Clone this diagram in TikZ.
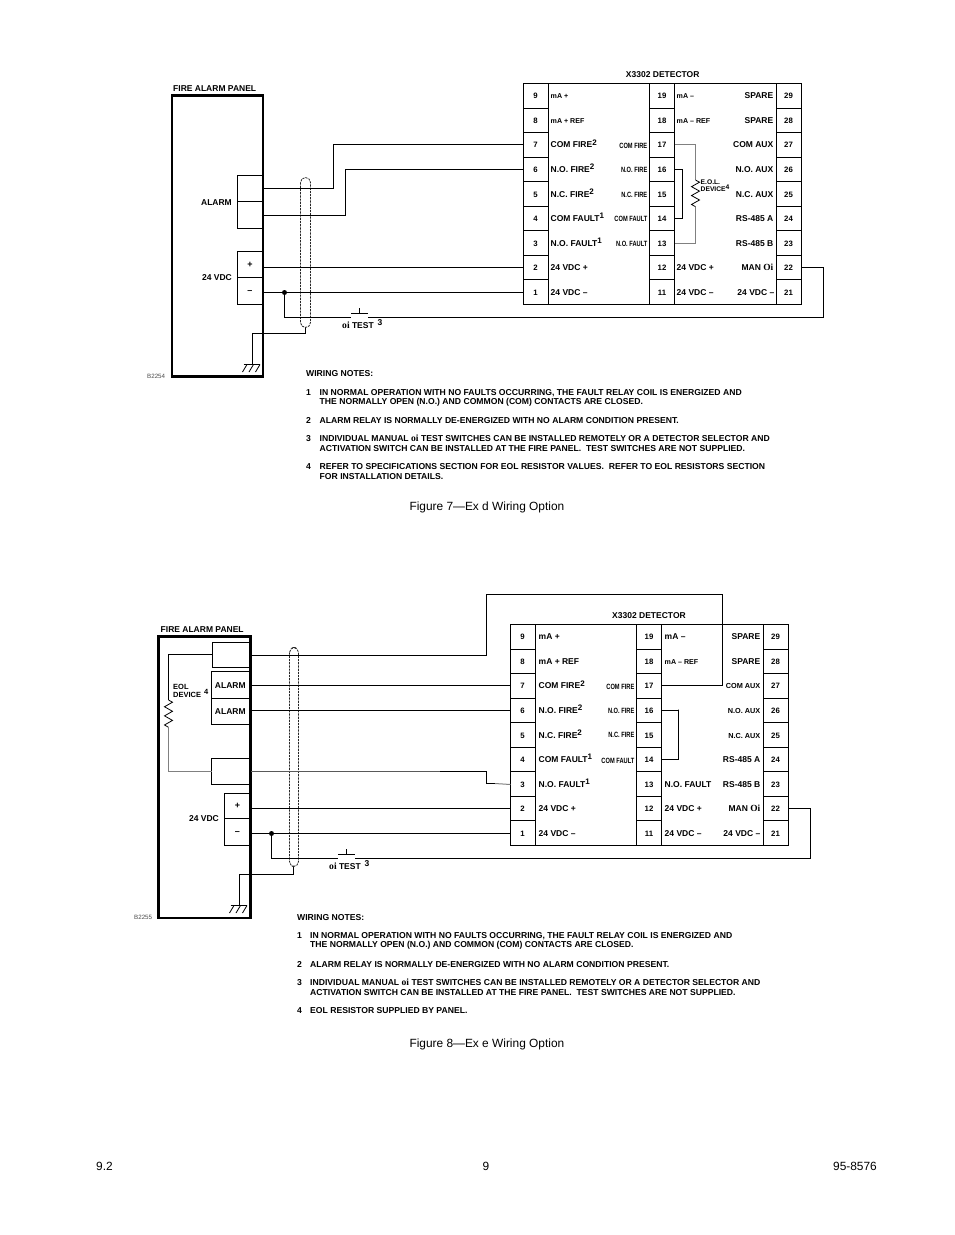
\documentclass[tikz,border=0pt]{standalone}
\usepackage{fontspec}
\setmainfont{Liberation Sans}
\newfontfamily\oifont{Liberation Serif}
\newcommand\fsz[1]{\fontsize{#1}{#1}\selectfont}
\newcommand\spr[1]{\raisebox{2.6pt}{\fsz{8}#1}}
\newcommand\oisym{{\oifont\bfseries\fsz{9.6}oi}}
\newcommand\bigoi{{\oifont\bfseries\fsz{9.4}Oi}}
\newcommand\cond[1]{\scalebox{.75}[1]{#1}}
\tikzset{
  x=1pt,y=-1pt,
  wire/.style={line width=1pt,black},
  greywire/.style={line width=1pt,black!50},
  panelbox/.style={line width=2.6pt,black},
  tbox/.style={line width=1pt,black},
  shieldline/.style={line width=.8pt,black!85,dash pattern=on 2.2pt off 1pt,rounded corners=5pt},
  txt/.style={inner sep=0pt,font=\bfseries\fsz{8.5},text height=6pt,text depth=0pt},
  small/.style={txt,font=\bfseries\fsz{7.1}},
  narrow/.style={txt,font=\bfseries\fsz{7.6},anchor=east},
  notes/.style={inner sep=0pt,font=\bfseries\fsz{8.62},anchor=base west},
  plain/.style={inner sep=0pt,font=\fsz{11.9},anchor=base west},
  code/.style={inner sep=0pt,font=\fsz{6.2},text=black!70,anchor=west},
}
% detector: prefix, dx, dy
\newcommand\detector[3]{%
\begin{scope}[shift={(#2,#3)}]
  \draw[tbox] (523.5,83.5) rectangle (801.5,304.5);
  \foreach \xx in {548.5,649.5,674.5,776.5} \draw[tbox] (\xx,83.5) -- (\xx,304.5);
  \foreach \k in {1,...,8} {
    \pgfmathsetmacro\yy{floor(83.5+24.55*\k)+.5}
    \draw[tbox] (523.5,\yy) -- (548.5,\yy);
    \draw[tbox] (649.5,\yy) -- (674.5,\yy);
    \draw[tbox] (776.5,\yy) -- (801.5,\yy);
  }
  \foreach \n [count=\k from 0] in {9,8,7,6,5,4,3,2,1} {
    \pgfmathsetmacro\yy{95.8+24.55*\k}
    \pgfmathsetmacro\yw{floor(95.8+24.55*\k)+.5}
    \pgfmathtruncatemacro\m{\n+10}
    \pgfmathtruncatemacro\r{\n+20}
    \node[txt,font=\bfseries\fsz{7.8}] (#1-n\n) at (535.5,\yy) {\n};
    \node[txt,font=\bfseries\fsz{7.8}] (#1-n\m) at (662,\yy) {\m};
    \node[txt,font=\bfseries\fsz{7.8}] (#1-n\r) at (788.5,\yy) {\r};
    \coordinate (#1-t\n) at (523.5,\yw);
    \coordinate (#1-t\m) at (674.5,\yw);
    \coordinate (#1-t\r) at (801.5,\yw);
  }
\end{scope}}
% switch + ground: prefix, dx, dy
\newcommand\common[3]{%
\begin{scope}[shift={(#2,#3)}]
  \coordinate (#1-gtop) at (252.5,333.5);
  \coordinate (#1-gnd) at (252.5,364.5);
  \coordinate (#1-swl) at (351,317.5);
  \coordinate (#1-swr) at (368,317.5);
  \coordinate (#1-jd) at (284.5,317.5);
  \coordinate (#1-far) at (823.5,317.5);
  \coordinate (#1-pr) at (264,300);
  \draw[wire] (243.5,364.5) -- (260,364.5);
  \draw[wire,line width=.8pt] (247,364.5) -- (242.5,372) (253.5,364.5) -- (249,372) (260,364.5) -- (255.5,372);
  \draw[wire] (351,313.5) -- (368,313.5) (359.5,313.5) -- (359.5,308);
  \node[txt,anchor=west] (#1-test) at (342,325.5) {\oisym\ TEST};
  \node[txt,anchor=west] (#1-testn) at (377.5,322.5) {3};
\end{scope}}
\begin{document}
\begin{tikzpicture}
\useasboundingbox (0,0) rectangle (954,1235);
\fill[white] (0,0) rectangle (954,1235);

%%%%%%%%%%%% FIGURE 7
\detector{A}{0}{0}
\common{A}{0}{0}
\draw[shieldline] (300.5,177.5) rectangle (310.5,327.5);
\coordinate (A-shb) at (305.5,327.5);
\draw[wire] (A-shb) |- (A-gtop) -- (A-gnd);
\draw[panelbox] (172,95.5) rectangle (263,376.3);
\draw[tbox] (263,175.5) -| (237.5,228.5) -- (263,228.5) (237.5,201.5) -- (263,201.5);
\draw[tbox] (263,251.5) -| (237.5,304.5) -- (263,304.5) (237.5,277.5) -- (263,277.5);
\node[txt,anchor=west] (A-title) at (173,88.5) {FIRE ALARM PANEL};
\node[txt,anchor=east] (A-alarm) at (232,202) {ALARM};
\node[txt,anchor=east] (A-vdc) at (232,277) {24 VDC};
\node[txt,font=\bfseries\fsz{9}] (A-plus) at (250,264) {+};
\node[txt,font=\bfseries\fsz{9}] (A-minus) at (250,290) {–};
\node[code] (A-code) at (147,376) {B2254};
\node[txt,anchor=center] (A-det) at (662.7,74) {X3302 DETECTOR};
% left labels
\node[small,anchor=west] (A-l9) at (550.5,95.8) {mA +};
\node[small,anchor=west] (A-l8) at (550.5,120.3) {mA + REF};
\node[txt,anchor=west] (A-l7) at (550.5,144.9) {COM FIRE\spr{2}};
\node[txt,anchor=west] (A-l6) at (550.5,169.4) {N.O. FIRE\spr{2}};
\node[txt,anchor=west] (A-l5) at (550.5,194) {N.C. FIRE\spr{2}};
\node[txt,anchor=west] (A-l4) at (550.5,218.5) {COM FAULT\spr{1}};
\node[txt,anchor=west] (A-l3) at (550.5,243) {N.O. FAULT\spr{1}};
\node[txt,anchor=west] (A-l2) at (550.5,267.6) {24 VDC +};
\node[txt,anchor=west] (A-l1) at (550.5,292.1) {24 VDC –};
\node[narrow] (A-c7) at (647.5,145) {\cond{COM FIRE}};
\node[narrow] (A-c6) at (647.5,169.6) {\cond{N.O. FIRE}};
\node[narrow] (A-c5) at (647.5,194) {\cond{N.C. FIRE}};
\node[narrow] (A-c4) at (647.5,218.6) {\cond{COM FAULT}};
\node[narrow] (A-c3) at (647.5,243) {\cond{N.O. FAULT}};
% centre / right labels
\node[small,anchor=west] (A-m19) at (676.5,95.8) {mA –};
\node[small,anchor=west] (A-m18) at (676.5,120.3) {mA – REF};
\node[txt,anchor=west] (A-m12) at (676.5,267.6) {24 VDC +};
\node[txt,anchor=west] (A-m11) at (676.5,292.1) {24 VDC –};
\node[txt,anchor=east] (A-r29) at (773.5,95.3) {SPARE};
\node[txt,anchor=east] (A-r28) at (773.5,120) {SPARE};
\node[txt,anchor=east] (A-r27) at (773.5,144.9) {COM AUX};
\node[txt,anchor=east] (A-r26) at (773.5,169.4) {N.O. AUX};
\node[txt,anchor=east] (A-r25) at (773.5,194) {N.C. AUX};
\node[txt,anchor=east] (A-r24) at (773.5,218.5) {RS-485 A};
\node[txt,anchor=east] (A-r23) at (773.5,243) {RS-485 B};
\node[txt,anchor=east] (A-r22) at (773.5,267.6) {MAN \bigoi};
\node[txt,anchor=east] (A-r21) at (774.5,292.1) {24 VDC –};
% EOL
\node[txt,anchor=west,font=\bfseries\fsz{6.7}] (A-eol1) at (700.5,181.5) {E.O.L.};
\node[txt,anchor=west,font=\bfseries\fsz{6.7}] (A-eol2) at (700.5,188.5) {DEVICE\raisebox{1.6pt}{\fsz{6.7}4}};
\coordinate (A-rt) at (695.5,180);
\coordinate (A-rb) at (695.5,206.7);
\draw[greywire] (A-t17) -| (A-rt) (A-rb) |- (A-t13);
\draw[wire,line width=.8pt] (A-rt) -- ++(4,2.2) -- ++(-8,4.45) -- ++(8,4.45) -- ++(-8,4.45) -- ++(8,4.45) -- ++(-8,4.45) -- (A-rb);
\coordinate (A-lp) at (682.5,169.5);
\draw[wire] (A-t16) -| (A-lp) |- (A-t14);
% field wires
\coordinate (A-j1) at (333.5,188.5);
\coordinate (A-j2) at (345.5,215.5);
\draw[wire] (A-j1 -| A-pr) -- (A-j1) |- (A-t7);
\draw[wire] (A-j2 -| A-pr) -- (A-j2) |- (A-t6);
\draw[wire] (A-t2 -| A-pr) -- (A-t2);
\draw[wire] (A-t1 -| A-pr) -- (A-t1);
\fill (A-t1 -| A-jd) circle (2.5);
\draw[wire] (A-t1 -| A-jd) -- (A-jd) -- (A-swl);
\draw[wire] (A-swr) -- (A-far) |- (A-t22);
% notes
\node[notes] (A-wn) at (306,376) {WIRING NOTES:};
\node[notes] (A-n1) at (306,395) {1};
\node[notes] (A-t1a) at (319.5,395) {IN NORMAL OPERATION WITH NO FAULTS OCCURRING, THE FAULT RELAY COIL IS ENERGIZED AND};
\node[notes] (A-t1b) at (319.5,404) {THE NORMALLY OPEN (N.O.) AND COMMON (COM) CONTACTS ARE CLOSED.};
\node[notes] (A-n2) at (306,423) {2};
\node[notes] (A-t2a) at (319.5,423) {ALARM RELAY IS NORMALLY DE-ENERGIZED WITH NO ALARM CONDITION PRESENT.};
\node[notes] (A-n3) at (306,441) {3};
\node[notes] (A-t3a) at (319.5,441) {INDIVIDUAL MANUAL \oisym\ TEST SWITCHES CAN BE INSTALLED REMOTELY OR A DETECTOR SELECTOR AND};
\node[notes] (A-t3b) at (319.5,451) {ACTIVATION SWITCH CAN BE INSTALLED AT THE FIRE PANEL.\ \ TEST SWITCHES ARE NOT SUPPLIED.};
\node[notes] (A-n4) at (306,469) {4};
\node[notes] (A-t4a) at (319.5,469) {REFER TO SPECIFICATIONS SECTION FOR EOL RESISTOR VALUES.\ \ REFER TO EOL RESISTORS SECTION};
\node[notes] (A-t4b) at (319.5,479) {FOR INSTALLATION DETAILS.};
\node[plain] (A-cap) at (409.3,510) {Figure 7—Ex d Wiring Option};

%%%%%%%%%%%% FIGURE 8
\detector{B}{-13}{541}
\common{B}{-13}{541}
\draw[shieldline] (289.5,647.5) rectangle (298.5,866.5);
\coordinate (B-shb) at (293.5,866.5);
\draw[wire] (B-shb) |- (B-gtop) -- (B-gnd);
\draw[panelbox] (158.7,636.5) rectangle (250.5,918);
\draw[tbox] (250,642.5) -| (212.5,667.5) -- (250,667.5);
\draw[tbox] (250,671.5) -| (211.5,724.5) -- (250,724.5) (211.5,698.5) -- (250,698.5);
\draw[tbox] (250,758.5) -| (211.5,784.5) -- (250,784.5);
\draw[tbox] (250,793.5) -| (224.5,845.5) -- (250,845.5) (224.5,818.5) -- (250,818.5);
\node[txt,anchor=west] (B-title) at (160.5,629) {FIRE ALARM PANEL};
\node[txt] (B-al1) at (230.3,685) {ALARM};
\node[txt] (B-al2) at (230.3,711) {ALARM};
\node[txt,anchor=east] (B-vdc) at (219,818) {24 VDC};
\node[txt,font=\bfseries\fsz{9}] (B-plus) at (237.5,805) {+};
\node[txt,font=\bfseries\fsz{9}] (B-minus) at (237.5,831.5) {–};
\node[code] (B-code) at (134,917) {B2255};
\node[txt,anchor=center] (B-det) at (649,615) {X3302 DETECTOR};
\node[txt,anchor=west] (B-l9) at (538.5,636.8) {mA +};
\node[txt,anchor=west] (B-l8) at (538.5,661.3) {mA + REF};
\node[txt,anchor=west] (B-l7) at (538.5,685.9) {COM FIRE\spr{2}};
\node[txt,anchor=west] (B-l6) at (538.5,710.4) {N.O. FIRE\spr{2}};
\node[txt,anchor=west] (B-l5) at (538.5,735) {N.C. FIRE\spr{2}};
\node[txt,anchor=west] (B-l4) at (538.5,759.5) {COM FAULT\spr{1}};
\node[txt,anchor=west] (B-l3) at (538.5,784) {N.O. FAULT\spr{1}};
\node[txt,anchor=west] (B-l2) at (538.5,808.6) {24 VDC +};
\node[txt,anchor=west] (B-l1) at (538.5,833.1) {24 VDC –};
\node[narrow] (B-c7) at (634.5,686) {\cond{COM FIRE}};
\node[narrow] (B-c6) at (634.5,710) {\cond{N.O. FIRE}};
\node[narrow] (B-c5) at (634.5,734.5) {\cond{N.C. FIRE}};
\node[narrow] (B-c4) at (634.5,760) {\cond{COM FAULT}};
\node[txt,anchor=west] (B-m19) at (664.5,636.8) {mA –};
\node[small,anchor=west] (B-m18) at (664.5,661.3) {mA – REF};
\node[txt,anchor=west] (B-m13) at (664.5,784) {N.O. FAULT};
\node[txt,anchor=west] (B-m12) at (664.5,808.6) {24 VDC +};
\node[txt,anchor=west] (B-m11) at (664.5,833.1) {24 VDC –};
\node[txt,anchor=east] (B-r29) at (760.5,636.8) {SPARE};
\node[txt,anchor=east] (B-r28) at (760.5,661) {SPARE};
\node[txt,anchor=east,font=\bfseries\fsz{7.3}] (B-r27) at (760.5,685.9) {COM AUX};
\node[txt,anchor=east,font=\bfseries\fsz{7.3}] (B-r26) at (760.5,710) {N.O. AUX};
\node[txt,anchor=east,font=\bfseries\fsz{7.3}] (B-r25) at (760.5,735) {N.C. AUX};
\node[txt,anchor=east] (B-r24) at (760.5,759.5) {RS-485 A};
\node[txt,anchor=east] (B-r23) at (760.5,784) {RS-485 B};
\node[txt,anchor=east] (B-r22) at (760.5,808.6) {MAN \bigoi};
\node[txt,anchor=east] (B-r21) at (760.5,833.1) {24 VDC –};
% EOL in panel
\node[txt,anchor=west,font=\bfseries\fsz{7.5}] (B-eol1) at (173,686.5) {EOL};
\node[txt,anchor=west,font=\bfseries\fsz{7.5}] (B-eol2) at (173,694.5) {DEVICE};
\node[txt,anchor=west,font=\bfseries\fsz{7.5}] (B-eol3) at (204,691) {4};
\coordinate (B-ba) at (212.5,654.5);
\coordinate (B-bb) at (211.5,771.5);
\coordinate (B-rt) at (168.5,700);
\coordinate (B-rb) at (168.5,727.3);
\draw[wire] (B-ba) -| (B-rt);
\draw[wire,line width=.8pt] (B-rt) -- ++(4,2.2) -- ++(-8,4.55) -- ++(8,4.55) -- ++(-8,4.55) -- ++(8,4.55) -- ++(-8,4.55) -- (B-rb);
\draw[greywire] (B-rb) |- (B-bb);
% field wires
\coordinate (B-up) at (486.5,594.5);
\coordinate (B-ov) at (722.5,594.5);
\coordinate (B-a1) at (486.5,655.5);
\draw[wire] (B-a1 -| B-pr) -- (B-a1) -- (B-up) -- (B-ov) |- (B-t17);
\coordinate (B-lp) at (678.5,709.5);
\draw[wire] (B-t16) -| (B-lp) |- (B-t14);
\draw[wire] (B-t7 -| B-pr) -- (B-t7);
\draw[wire] (B-t6 -| B-pr) -- (B-t6);
\coordinate (B-g1) at (486.5,771.5);
\coordinate (B-g2) at (486.5,783.5);
\draw[wire,black!65] (B-g1 -| B-pr) -- (B-g1);
\draw[wire] (440,771.5) -- (B-g1) -- (B-g2) -- (495,783.5);
\draw[greywire] (495,783.5) -- (B-t3);
\draw[wire] (B-t2 -| B-pr) -- (B-t2);
\draw[wire] (B-t1 -| B-pr) -- (B-t1);
\fill (B-t1 -| B-jd) circle (2.5);
\draw[wire] (B-t1 -| B-jd) -- (B-jd) -- (B-swl);
\draw[wire] (B-swr) -- (B-far) |- (B-t22);
% notes
\node[notes] (B-wn) at (297,920) {WIRING NOTES:};
\node[notes] (B-n1) at (297,938) {1};
\node[notes] (B-t1a) at (310,938) {IN NORMAL OPERATION WITH NO FAULTS OCCURRING, THE FAULT RELAY COIL IS ENERGIZED AND};
\node[notes] (B-t1b) at (310,947.5) {THE NORMALLY OPEN (N.O.) AND COMMON (COM) CONTACTS ARE CLOSED.};
\node[notes] (B-n2) at (297,967) {2};
\node[notes] (B-t2a) at (310,967) {ALARM RELAY IS NORMALLY DE-ENERGIZED WITH NO ALARM CONDITION PRESENT.};
\node[notes] (B-n3) at (297,985) {3};
\node[notes] (B-t3a) at (310,985) {INDIVIDUAL MANUAL \oisym\ TEST SWITCHES CAN BE INSTALLED REMOTELY OR A DETECTOR SELECTOR AND};
\node[notes] (B-t3b) at (310,995) {ACTIVATION SWITCH CAN BE INSTALLED AT THE FIRE PANEL.\ \ TEST SWITCHES ARE NOT SUPPLIED.};
\node[notes] (B-n4) at (297,1013) {4};
\node[notes] (B-t4a) at (310,1013) {EOL RESISTOR SUPPLIED BY PANEL.};
\node[plain] (B-cap) at (409.3,1047) {Figure 8—Ex e Wiring Option};

%%%%%%%%%%%% footer
\node[plain] (F-l) at (96,1170) {9.2};
\node[plain,anchor=base] (F-c) at (486,1170) {9};
\node[plain,anchor=base east] (F-r) at (877,1170) {95-8576};
\end{tikzpicture}
\end{document}
